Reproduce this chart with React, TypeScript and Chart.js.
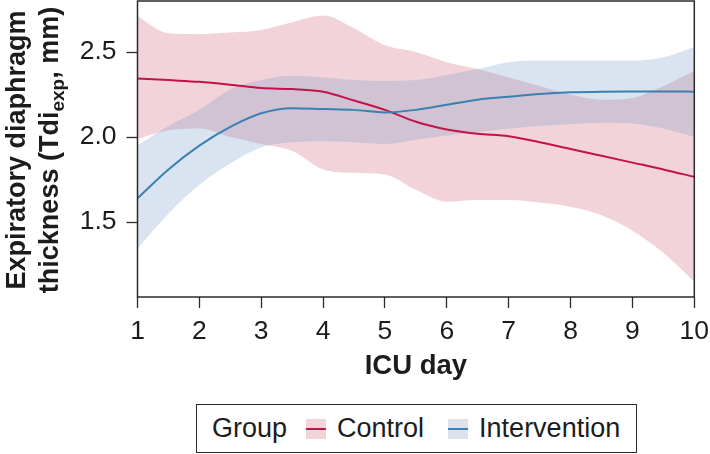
import React, { useEffect, useRef } from 'react';
import { Chart, registerables } from 'chart.js';

Chart.register(...registerables);

// ---- data ----
const DAYS = [1, 1.5, 2, 2.5, 3, 3.5, 4, 4.5, 5, 5.5, 6, 6.5, 7, 7.5, 8, 8.5, 9, 9.5, 10];

const CONTROL_MEAN = [2.345, 2.335, 2.325, 2.308, 2.288, 2.282, 2.267, 2.215, 2.16, 2.09, 2.045, 2.02, 2.005, 1.97, 1.93, 1.89, 1.85, 1.81, 1.766];
const CONTROL_UPPER = [2.71, 2.61, 2.605, 2.615, 2.63, 2.675, 2.715, 2.64, 2.54, 2.5, 2.44, 2.4, 2.35, 2.3, 2.25, 2.22, 2.23, 2.3, 2.39];
const CONTROL_LOWER = [1.99, 2.04, 2.05, 2.0, 1.96, 1.92, 1.81, 1.79, 1.78, 1.69, 1.62, 1.63, 1.63, 1.615, 1.59, 1.54, 1.45, 1.32, 1.15];

const INTERVENTION_MEAN = [1.64, 1.81, 1.95, 2.06, 2.14, 2.17, 2.165, 2.16, 2.145, 2.16, 2.19, 2.22, 2.237, 2.253, 2.263, 2.267, 2.268, 2.268, 2.267];
const INTERVENTION_UPPER = [1.95, 2.065, 2.16, 2.28, 2.335, 2.36, 2.35, 2.335, 2.33, 2.335, 2.365, 2.4, 2.44, 2.45, 2.45, 2.45, 2.45, 2.47, 2.53];
const INTERVENTION_LOWER = [1.345, 1.55, 1.72, 1.845, 1.94, 1.97, 1.976, 1.97, 1.96, 1.985, 2.01, 2.03, 2.05, 2.065, 2.076, 2.084, 2.08, 2.05, 2.0];

const X_TICKS = [1, 2, 3, 4, 5, 6, 7, 8, 9, 10];
const Y_TICKS = [1.5, 2.0, 2.5];

const GROUPS = ['Control', 'Intervention'];
const LEGEND_TITLE = 'Group';
const X_TITLE = 'ICU day';
const Y_TITLE_LINE1 = 'Expiratory diaphragm';
const Y_TITLE_LINE2 = ['thickness (Tdi', 'exp', ', mm)'];

// ---- styles ----
const FONT = '"Liberation Sans", Arial, Helvetica, sans-serif';
const TEXT_COLOR = '#1c1c1c';
const AXIS_COLOR = '#2b2b2b';
const RED = 'rgb(196, 18, 72)';
const BLUE = 'rgb(58, 128, 178)';
const RED_BAND = 'rgba(214, 120, 140, 0.33)';
const BLUE_BAND = 'rgba(120, 150, 200, 0.27)';
const RED_PATCH = 'rgb(241, 211, 216)';
const BLUE_PATCH = 'rgb(220, 227, 239)';

const pts = (ys: number[]) => DAYS.map((x, i) => ({ x, y: ys[i] }));

const framePlugin = {
  id: 'frameAndYTitle',
  afterDatasetsDraw(chart: any) {
    const { ctx, chartArea: a } = chart;
    ctx.save();
    ctx.strokeStyle = AXIS_COLOR;
    ctx.lineWidth = 1.5;
    ctx.strokeRect(a.left, a.top, a.right - a.left, a.bottom - a.top);
    ctx.restore();
  },
  afterDraw(chart: any) {
    const { ctx, chartArea: a } = chart;
    const cy = (a.top + a.bottom) / 2 + 1;
    const big = `bold 27px ${FONT}`;
    const small = `bold 19px ${FONT}`;
    ctx.save();
    ctx.fillStyle = TEXT_COLOR;
    ctx.textBaseline = 'alphabetic';
    ctx.textAlign = 'left';
    // line 1
    ctx.save();
    ctx.translate(25, cy);
    ctx.rotate(-Math.PI / 2);
    ctx.font = big;
    const w1 = ctx.measureText(Y_TITLE_LINE1).width;
    ctx.fillText(Y_TITLE_LINE1, -w1 / 2, 0);
    ctx.restore();
    // line 2 with subscript
    ctx.save();
    ctx.translate(58, cy);
    ctx.rotate(-Math.PI / 2);
    ctx.font = big;
    const wa = ctx.measureText(Y_TITLE_LINE2[0]).width;
    const wc = ctx.measureText(Y_TITLE_LINE2[2]).width;
    ctx.font = small;
    const wb = ctx.measureText(Y_TITLE_LINE2[1]).width;
    let x = -(wa + wb + wc) / 2;
    ctx.font = big;
    ctx.fillText(Y_TITLE_LINE2[0], x, 0);
    x += wa;
    ctx.font = small;
    ctx.fillText(Y_TITLE_LINE2[1], x, 6);
    x += wb;
    ctx.font = big;
    ctx.fillText(Y_TITLE_LINE2[2], x, 0);
    ctx.restore();
    ctx.restore();
  },
};

export default function App() {
  const ref = useRef<HTMLCanvasElement | null>(null);

  useEffect(() => {
    if (!ref.current) return;
    const bandBase = { pointRadius: 0, borderWidth: 0, cubicInterpolationMode: 'monotone' as const };
    const chart = new Chart(ref.current, {
      type: 'line',
      data: {
        datasets: [
          { label: GROUPS[0], data: pts(CONTROL_MEAN), borderColor: RED, borderWidth: 2, pointRadius: 0, fill: false, cubicInterpolationMode: 'monotone', order: 1 },
          { label: GROUPS[1], data: pts(INTERVENTION_MEAN), borderColor: BLUE, borderWidth: 2, pointRadius: 0, fill: false, cubicInterpolationMode: 'monotone', order: 0 },
          { label: 'c_lo', data: pts(CONTROL_LOWER), ...bandBase, fill: false, order: 6 },
          { label: 'c_hi', data: pts(CONTROL_UPPER), ...bandBase, backgroundColor: RED_BAND, fill: 2, order: 5 },
          { label: 'i_lo', data: pts(INTERVENTION_LOWER), ...bandBase, fill: false, order: 4 },
          { label: 'i_hi', data: pts(INTERVENTION_UPPER), ...bandBase, backgroundColor: BLUE_BAND, fill: 4, order: 3 },
        ],
      },
      options: {
        responsive: false,
        animation: false,
        events: [],
        layout: { padding: { top: 1, right: 15.7, bottom: 0, left: 0 } },
        plugins: { legend: { display: false }, tooltip: { enabled: false } },
        scales: {
          x: {
            type: 'linear',
            min: 1,
            max: 10,
            afterBuildTicks: (s: any) => { s.ticks = X_TICKS.map((v) => ({ value: v })); },
            afterFit: (s: any) => { s.height = 103; s.paddingLeft = 0; s.paddingRight = 0; },
            grid: { drawOnChartArea: false, drawTicks: true, tickLength: 11, tickColor: AXIS_COLOR, tickWidth: 1.3 },
            border: { display: false },
            ticks: { padding: 8, color: TEXT_COLOR, font: { family: FONT, size: 26.5 }, maxRotation: 0, autoSkip: false },
            title: { display: true, text: X_TITLE, color: TEXT_COLOR, font: { family: FONT, size: 27.5, weight: 'bold' }, padding: { top: 0, bottom: 17 } },
          },
          y: {
            type: 'linear',
            min: 1.06,
            max: 2.8,
            afterBuildTicks: (s: any) => { s.ticks = Y_TICKS.map((v) => ({ value: v })); },
            afterFit: (s: any) => { s.width = 137.5; s.paddingTop = 0; s.paddingBottom = 0; },
            grid: { drawOnChartArea: false, drawTicks: true, tickLength: 11, tickColor: AXIS_COLOR, tickWidth: 1.3 },
            border: { display: false },
            ticks: { padding: 10, color: TEXT_COLOR, font: { family: FONT, size: 26.5 }, callback: (v: any) => Number(v).toFixed(1) },
          },
        },
      },
      plugins: [framePlugin],
    } as any);
    return () => chart.destroy();
  }, []);

  const text: React.CSSProperties = { fontFamily: FONT, fontSize: 27, color: TEXT_COLOR, lineHeight: 1 };
  const patch = (bg: string): React.CSSProperties => ({
    width: 20, height: 20, background: bg, position: 'relative', flex: '0 0 auto',
  });

  return (
    <div style={{ position: 'fixed', left: 0, top: 0, width: 710, height: 454, background: '#fff', overflow: 'hidden' }}>
      <canvas ref={ref} width={710} height={400} style={{ display: 'block', width: 710, height: 400 }} />
      <div
        style={{
          position: 'absolute', left: 196, top: 404, width: 441, height: 49, boxSizing: 'border-box',
          border: `1.5px solid ${AXIS_COLOR}`, display: 'flex', alignItems: 'center', paddingLeft: 15,
        }}
      >
        <span style={{ ...text, marginRight: 19 }}>{LEGEND_TITLE}</span>
        <span style={{ ...patch(RED_PATCH), marginRight: 11 }}>
          <span style={{ position: 'absolute', left: 0, right: 0, top: 9, height: 2, background: RED }} />
        </span>
        <span style={{ ...text, marginRight: 24 }}>{GROUPS[0]}</span>
        <span style={{ ...patch(BLUE_PATCH), marginRight: 11 }}>
          <span style={{ position: 'absolute', left: 0, right: 0, top: 9, height: 2, background: BLUE }} />
        </span>
        <span style={text}>{GROUPS[1]}</span>
      </div>
    </div>
  );
}
